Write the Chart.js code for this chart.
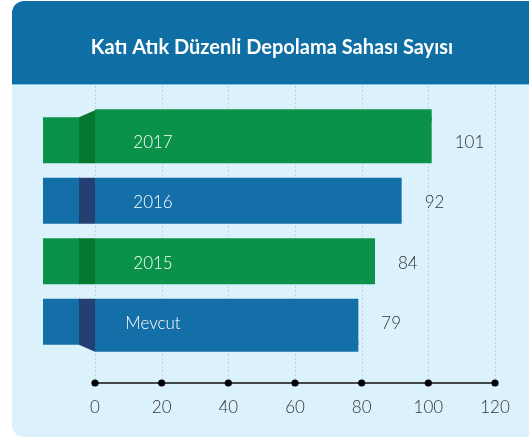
<!DOCTYPE html>
<html>
<head>
<meta charset="utf-8">
<title>Katı Atık Düzenli Depolama Sahası Sayısı</title>
<script src="https://cdn.jsdelivr.net/npm/chart.js@4.4.1/dist/chart.umd.min.js"></script>
<style>
  html, body { margin: 0; padding: 0; background: #ffffff; }
  #wrap { width: 529px; height: 440px; }
</style>
</head>
<body>
<div id="wrap"><canvas id="myChart"></canvas></div>

<script>
const titleText = 'Katı Atık Düzenli Depolama Sahası Sayısı';
const categories = ['2017', '2016', '2015', 'Mevcut'];
const siteCounts = [101, 92, 84, 79];
const axisTicks = [0, 20, 40, 60, 80, 100, 120];

const green = '#0a9248', greenDark = '#05772f';
const blue = '#146ea8', blueDark = '#243f72';
const barColors = [green, blue, green, blue];
const stubDark = [greenDark, blueDark, greenDark, blueDark];

const fontFamily = 'Lato, "Open Sans", sans-serif';

// header box, light panel, dotted grid, stubs on the left
const decor = {
  id: 'decor',
  beforeDraw(chart) {
    const ctx = chart.ctx;
    ctx.save();
    ctx.fillStyle = '#dbf1fc';
    ctx.beginPath();
    ctx.roundRect(12, 60, 540, 377, [0, 0, 0, 12]);
    ctx.fill();
    ctx.fillStyle = '#0f6fa5';
    ctx.beginPath();
    ctx.roundRect(12, 1, 540, 83, [12, 0, 0, 0]);
    ctx.fill();
    ctx.fillStyle = '#7cc3ea';
    ctx.fillRect(12, 84, 540, 1);
    ctx.restore();
  },
  beforeDatasetsDraw(chart) {
    const ctx = chart.ctx;
    const x = chart.scales.x;
    const axisY = chart.chartArea.bottom + 31;
    ctx.save();
    ctx.strokeStyle = '#c8d0d8';
    ctx.lineWidth = 1;
    ctx.setLineDash([2, 2]);
    axisTicks.forEach(v => {
      const px = Math.round(x.getPixelForValue(v)) + 0.5;
      ctx.beginPath();
      ctx.moveTo(px, 86);
      ctx.lineTo(px, axisY);
      ctx.stroke();
    });
    ctx.setLineDash([]);

    const meta = chart.getDatasetMeta(0);
    const last = meta.data.length - 1;
    meta.data.forEach((bar, i) => {
      const base = x.getPixelForValue(0);
      const top = bar.y - bar.height / 2;
      const bot = bar.y + bar.height / 2;
      ctx.fillStyle = barColors[i];
      ctx.fillRect(base - 52, top, 37, bar.height);
      ctx.fillStyle = stubDark[i];
      ctx.beginPath();
      if (i === 0) {
        ctx.moveTo(base - 16, top);
        ctx.lineTo(base, top - 7);
        ctx.lineTo(base, bot);
        ctx.lineTo(base - 16, bot);
      } else if (i === last) {
        ctx.moveTo(base - 16, top);
        ctx.lineTo(base, top);
        ctx.lineTo(base, bot + 7);
        ctx.lineTo(base - 16, bot);
      } else {
        ctx.rect(base - 16, top, 16, bar.height);
      }
      ctx.fill();
      // folded part of the main bar (overlaps the bar by a few px)
      ctx.fillStyle = barColors[i];
      if (i === 0) ctx.fillRect(base, top - 8, bar.x - base, 12);
      if (i === last) ctx.fillRect(base, bot - 4, bar.x - base, 11);
    });
    ctx.restore();
  },
  afterDatasetsDraw(chart) {
    const ctx = chart.ctx;
    const x = chart.scales.x;
    const meta = chart.getDatasetMeta(0);
    ctx.save();
    ctx.textBaseline = 'middle';
    ctx.font = '300 17px ' + fontFamily;
    meta.data.forEach((bar, i) => {
      const base = x.getPixelForValue(0);
      ctx.fillStyle = '#ffffff';
      ctx.textAlign = 'center';
      ctx.fillText(categories[i], base + 58, bar.y + 2);
      ctx.fillStyle = '#333333';
      ctx.textAlign = 'left';
      ctx.fillText(String(siteCounts[i]), bar.x + 23, bar.y + 2);
    });

    // axis line with dots
    const axisY = chart.chartArea.bottom + 31;
    ctx.strokeStyle = '#111111';
    ctx.lineWidth = 1.5;
    ctx.beginPath();
    ctx.moveTo(x.getPixelForValue(axisTicks[0]), axisY);
    ctx.lineTo(x.getPixelForValue(axisTicks[axisTicks.length - 1]), axisY);
    ctx.stroke();
    ctx.fillStyle = '#000000';
    axisTicks.forEach(v => {
      ctx.beginPath();
      ctx.arc(x.getPixelForValue(v), axisY, 3.6, 0, Math.PI * 2);
      ctx.fill();
    });
    ctx.restore();
  }
};

const data = {
  labels: categories,
  datasets: [{
    label: titleText,
    data: siteCounts,
    backgroundColor: barColors,
    borderWidth: 0,
    barPercentage: 0.76,
    categoryPercentage: 1
  }]
};

const config = {
  type: 'bar',
  data,
  plugins: [decor],
  options: {
    indexAxis: 'y',
    responsive: false,
    animation: false,
    layout: { padding: { left: 49, right: 34, top: 0, bottom: 0 } },
    plugins: {
      legend: { display: false },
      tooltip: { enabled: false },
      title: {
        display: true,
        text: titleText,
        color: '#ffffff',
        font: { family: fontFamily, size: 20, weight: 'bold' },
        padding: { top: 36, bottom: 50 }
      }
    },
    scales: {
      y: {
        grid: { display: false, drawTicks: false },
        border: { display: false },
        ticks: { display: false },
        afterFit(scale) { scale.width = 46; }
      },
      x: {
        min: 0,
        max: 120,
        grid: { display: false, drawTicks: false },
        border: { display: false },
        ticks: {
          stepSize: 20,
          padding: 45,
          color: '#333333',
          font: { family: fontFamily, size: 17, weight: 300 }
        },
        afterFit(scale) {
          scale.height = 88;
          scale.paddingLeft = 0;
          scale.paddingRight = 0;
        }
      }
    }
  }
};

const canvas = document.getElementById('myChart');
canvas.width = 529;
canvas.height = 440;
new Chart(canvas, config);
</script>
</body>
</html>
